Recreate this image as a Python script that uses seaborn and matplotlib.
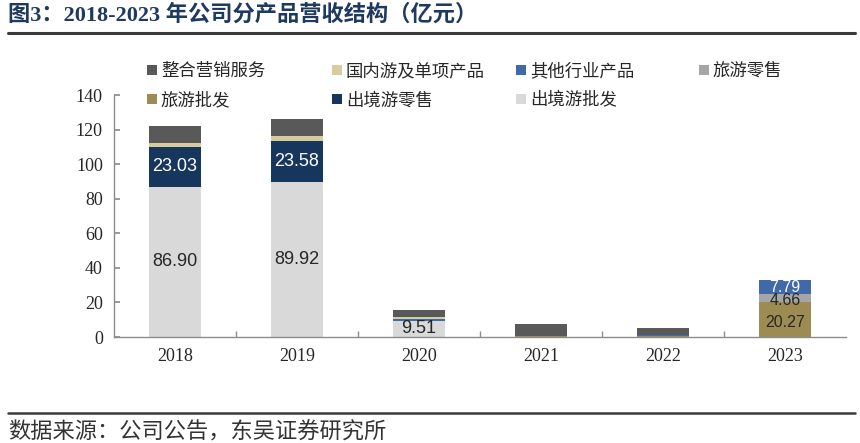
import matplotlib
matplotlib.use("Agg")
import matplotlib.pyplot as plt
from matplotlib.patches import Patch
from matplotlib.lines import Line2D
import seaborn as sns
import pandas as pd
import numpy as np

years = ["2018", "2019", "2020", "2021", "2022", "2023"]
# stacked bottom -> top
series_names = ["出境游批发", "出境游零售", "旅游批发", "旅游零售", "其他行业产品", "国内游及单项产品", "整合营销服务"]
v_outbound_wholesale = [86.90, 89.92, 9.51, 0.0, 0.0, 0.0]
v_outbound_retail = [23.03, 23.58, 0.0, 0.0, 0.0, 0.0]
v_travel_wholesale = [0.0, 0.0, 0.0, 0.8, 0.8, 20.27]
v_travel_retail = [0.0, 0.0, 0.0, 0.0, 0.0, 4.66]
v_other = [0.0, 0.0, 0.8, 0.0, 0.5, 7.79]
v_domestic = [2.2, 2.5, 1.5, 0.0, 0.0, 0.0]
v_marketing = [10.2, 10.4, 4.0, 6.5, 4.1, 0.5]
series_values = [v_outbound_wholesale, v_outbound_retail, v_travel_wholesale,
                 v_travel_retail, v_other, v_domestic, v_marketing]
colors = {
    "出境游批发": "#D9D9D9",
    "出境游零售": "#17365D",
    "旅游批发": "#9C8B52",
    "旅游零售": "#A6A6A6",
    "其他行业产品": "#3F69A8",
    "国内游及单项产品": "#D8CC9E",
    "整合营销服务": "#595959",
}
label_colors = {
    "出境游批发": "#262626",
    "出境游零售": "white",
    "旅游批发": "#262626",
    "旅游零售": "#262626",
    "其他行业产品": "white",
}
legend_order = ["整合营销服务", "国内游及单项产品", "其他行业产品", "旅游零售",
                "旅游批发", "出境游零售", "出境游批发"]
yticks = [0, 20, 40, 60, 80, 100, 120, 140]

sns.set_theme(style="white")
plt.rcParams["font.family"] = ["Liberation Serif", "Noto Sans CJK SC", "DejaVu Sans"]

fig = plt.figure(figsize=(8.6, 4.43), dpi=100)
ax = fig.add_axes([114 / 860, 1 - 337 / 443, 732 / 860, (337 - 95) / 443])

vals = np.array(series_values)
cum = np.cumsum(vals, axis=0)
rows = []
for si, name in enumerate(series_names):
    for yi, yr in enumerate(years):
        rows.append({"year": yr, "series": name, "value": vals[si, yi],
                     "top": cum[si, yi], "bottom": cum[si, yi] - vals[si, yi]})
df = pd.DataFrame(rows)

# draw from top of stack to bottom so lower layers cover upper cumulative bars
for name in reversed(series_names):
    sub = df[df["series"] == name]
    sns.barplot(data=sub, x="year", y="top", order=years, color=colors[name],
                saturation=1, width=0.43, errorbar=None, linewidth=0, ax=ax)

for _, r in df.iterrows():
    if r["series"] in label_colors and r["value"] > 3:
        xi = years.index(r["year"])
        small = r["value"] < 9
        size = 11.5 if r["year"] == "2023" else 13
        dy = -3 if (r["year"] == "2023" and r["series"] != "其他行业产品") else 0
        ax.annotate(f"{r['value']:.2f}", (xi, r["bottom"] + r["value"] / 2),
                    xytext=(0, dy), textcoords="offset pixels",
                    ha="center", va="center", fontsize=size,
                    color=label_colors[r["series"]], family=["Liberation Sans"])

ax.set_xlim(-0.5, len(years) - 0.5)
ax.set_ylim(0, 140)
ax.set_yticks(yticks)
ax.set_yticklabels([str(t) for t in yticks])
ax.set_xlabel("")
ax.set_ylabel("")
for s in ["top", "right"]:
    ax.spines[s].set_visible(False)
for s in ["left", "bottom"]:
    ax.spines[s].set_color("#8C8C8C")
    ax.spines[s].set_linewidth(1.0)
ax.tick_params(axis="y", direction="in", length=4, color="#8C8C8C", left=True,
               labelsize=13, labelcolor="#262626", pad=8)
ax.tick_params(axis="x", which="major", length=0, labelsize=13, labelcolor="#262626", pad=8)
ax.set_xticks(np.arange(0.5, len(years) - 0.5), minor=True)
ax.tick_params(axis="x", which="minor", direction="in", length=4, color="#8C8C8C", bottom=True)

# legend: one small legend per column
col_x = [147 / 860, 332 / 860, 516 / 860, 699 / 860]
for c in range(4):
    names = [legend_order[c]] + ([legend_order[c + 4]] if c + 4 < len(legend_order) else [])
    handles = [Patch(facecolor=colors[n], edgecolor="none") for n in names]
    leg = fig.legend(handles, names, loc="upper left",
                     bbox_to_anchor=(col_x[c], 1 - 62 / 443), frameon=False,
                     prop={"family": ["Noto Sans CJK SC"], "size": 12.5},
                     handlelength=0.55, handleheight=0.55, handletextpad=0.25,
                     labelspacing=0.65, borderaxespad=0, borderpad=0)
    for t in leg.get_texts():
        t.set_color("#262626")

# title, rules, source
fig.text(8 / 860, 1 - 15 / 443, "图3：2018-2023 年公司分产品营收结构（亿元）",
         ha="left", va="center", fontsize=16, fontweight="bold", color="#1F3A5F",
         family=["Liberation Serif", "Noto Sans CJK SC"])
fig.add_artist(Line2D([8 / 860, 855 / 860], [1 - 33 / 443, 1 - 33 / 443],
                      color="#3A3A3A", linewidth=2.2))
fig.add_artist(Line2D([8 / 860, 855 / 860], [1 - 413 / 443, 1 - 413 / 443],
                      color="#3A3A3A", linewidth=1.8))
fig.text(8 / 860, 1 - 432 / 443, "数据来源：公司公告，东吴证券研究所",
         ha="left", va="center", fontsize=16, color="#333333",
         family=["Noto Sans CJK SC"])

fig.savefig("out.png", dpi=100)
